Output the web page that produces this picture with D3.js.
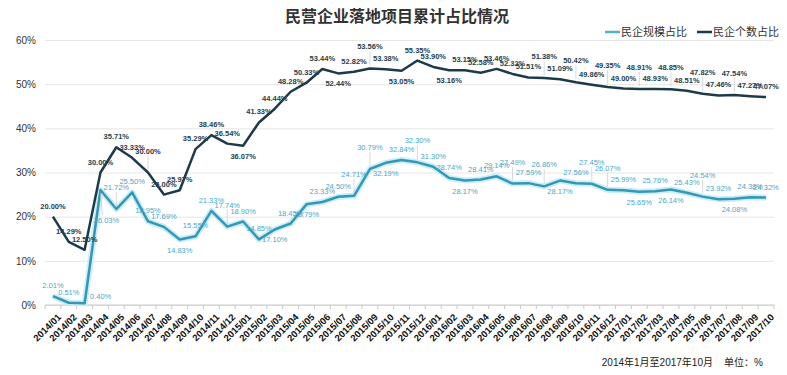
<!DOCTYPE html>
<html>
<head>
<meta charset="utf-8">
<script src="https://cdn.jsdelivr.net/npm/d3@7"></script>
<style>
  body { margin: 0; background: #fff; }
  text { font-family: Arial, "Liberation Sans", "Noto Sans CJK SC", sans-serif; }
</style>
</head>
<body>
<div id="myChart"></div>
<script>
// Chart size
const w = 787;
const h = 375;

// Data
const months = [
  "2014/01","2014/02","2014/03","2014/04","2014/05","2014/06","2014/07","2014/08","2014/09","2014/10","2014/11","2014/12",
  "2015/01","2015/02","2015/03","2015/04","2015/05","2015/06","2015/07","2015/08","2015/09","2015/10","2015/11","2015/12",
  "2016/01","2016/02","2016/03","2016/04","2016/05","2016/06","2016/07","2016/08","2016/09","2016/10","2016/11","2016/12",
  "2017/01","2017/02","2017/03","2017/04","2017/05","2017/06","2017/07","2017/08","2017/09","2017/10"
];
// 民企规模占比 (%)
const scaleShare = [
  2.01, 0.51, 0.40, 26.03, 21.72, 25.50, 18.95, 17.69, 14.83, 15.55, 21.33, 17.74,
  18.90, 14.85, 17.10, 18.45, 22.79, 23.33, 24.50, 24.71, 30.79, 32.19, 32.84, 32.30,
  31.30, 28.74, 28.17, 28.41, 29.14, 27.49, 27.59, 26.86, 28.17, 27.56, 27.45, 26.07,
  25.99, 25.65, 25.76, 26.14, 25.43, 24.54, 23.92, 24.08, 24.38, 24.32
];
// 民企个数占比 (%)
const countShare = [
  20.00, 14.29, 12.50, 30.00, 35.71, 33.33, 30.00, 25.00, 25.97, 35.29, 38.46, 36.54,
  36.07, 41.33, 44.44, 48.28, 50.33, 53.44, 52.44, 52.82, 53.56, 53.38, 53.05, 55.35,
  53.90, 53.16, 53.15, 52.58, 53.46, 52.32, 51.51, 51.38, 51.09, 50.42, 49.86, 49.35,
  49.00, 48.91, 48.93, 48.85, 48.51, 47.82, 47.46, 47.54, 47.27, 47.07
];
const yTicks = [0, 10, 20, 30, 40, 50, 60];
const seriesNames = ["民企规模占比", "民企个数占比"];

// label placement: a = above, b = below, d = far below, h = high with leader, r = right
const scaleLabelPos = "aardhaaabaah" + "aababaahhbah" + "aabaahahbahh" + "ababahabaa";
const countLabelPos = "aaaaaahaaaaa" + "baaaaabahaba" + "abaaaaahahah" + "ahahahahaa";

const colorLight = "#3597b6";
const colorDark = "#1d3a4b";

// margins
const margin = {top: 40, left: 45, bottom: 70, right: 13};
const innerWidth = w - margin.left - margin.right;
const innerHeight = h - margin.top - margin.bottom;

const svg = d3.select("#myChart")
  .append("svg")
    .attr("width", w)
    .attr("height", h);

// Title
svg.append("text")
  .attr("x", 397)
  .attr("y", 22)
  .attr("text-anchor", "middle")
  .style("font-size", "16px")
  .style("font-weight", "bold")
  .style("fill", "#333")
  .text("民营企业落地项目累计占比情况");

const mainG = svg.append("g")
  .attr("transform", `translate(${margin.left}, ${margin.top})`);

// scales
const xScale = d3.scaleBand()
  .domain(months)
  .range([0, innerWidth]);

const yScale = d3.scaleLinear()
  .domain([0, 60])
  .range([innerHeight, 0]);

const xc = d => xScale(d) + xScale.bandwidth() / 2;

// y grid + labels
const yAxis = d3.axisLeft(yScale)
  .tickValues(yTicks)
  .tickSize(-innerWidth)
  .tickFormat(d => d + "%");

mainG.append("g")
  .call(yAxis)
  .call(g => g.select(".domain").remove())
  .call(g => g.selectAll(".tick line").attr("stroke", "#e6e6e6"))
  .call(g => g.selectAll(".tick text")
    .attr("x", -9)
    .style("font-size", "10px")
    .style("fill", "#333"));

// x axis with ticks at band edges
const xAxisG = mainG.append("g")
  .attr("transform", `translate(0,${innerHeight})`);

xAxisG.append("line")
  .attr("x1", 0).attr("x2", innerWidth)
  .attr("stroke", "#c8c8c8");

xAxisG.selectAll("line.tk")
  .data(months.concat(["end"]))
  .enter()
  .append("line")
    .attr("class", "tk")
    .attr("x1", (d, i) => i * xScale.bandwidth())
    .attr("x2", (d, i) => i * xScale.bandwidth())
    .attr("y1", 0).attr("y2", 4)
    .attr("stroke", "#c8c8c8");

xAxisG.selectAll("text")
  .data(months)
  .enter()
  .append("text")
    .attr("transform", d => `translate(${xc(d) + 4},${8}) rotate(-45)`)
    .attr("text-anchor", "end")
    .attr("dy", "0.7em")
    .style("font-size", "9.5px")
    .style("font-weight", "bold")
    .style("fill", "#111")
    .text(d => d);

// line generator
const line = d3.line()
  .x((d, i) => xc(months[i]))
  .y(d => yScale(d));

// light series with halo
mainG.append("path")
  .attr("d", line(scaleShare))
  .attr("fill", "none")
  .attr("stroke", "#c9eef8")
  .attr("stroke-width", 6)
  .attr("stroke-linejoin", "round");

mainG.append("path")
  .attr("d", line(scaleShare))
  .attr("fill", "none")
  .attr("stroke", colorLight)
  .attr("stroke-width", 2.5)
  .attr("stroke-linejoin", "round");

mainG.append("path")
  .attr("d", line(countShare))
  .attr("fill", "none")
  .attr("stroke", colorDark)
  .attr("stroke-width", 2.5)
  .attr("stroke-linejoin", "round");

// data labels
function drawLabels(values, pos, color, weight) {
  const off = {a: [0, -8], b: [0, 13], d: [6, 33], h: [0, -19], r: [16, -4]};
  const g = mainG.append("g");
  values.forEach((v, i) => {
    const p = pos[i];
    const x = xc(months[i]) + off[p][0];
    const y = yScale(v) + off[p][1];
    if (p === "h") {
      g.append("line")
        .attr("x1", xc(months[i])).attr("x2", xc(months[i]))
        .attr("y1", y + 2).attr("y2", yScale(v) - 3)
        .attr("stroke", "#c8c8c8").attr("stroke-width", 0.7);
    }
    if (p === "d") {
      g.append("line")
        .attr("x1", xc(months[i])).attr("x2", x - 4)
        .attr("y1", yScale(v) + 3).attr("y2", y - 8)
        .attr("stroke", "#c8c8c8").attr("stroke-width", 0.7);
    }
    g.append("text")
      .attr("x", x)
      .attr("y", y)
      .attr("text-anchor", "middle")
      .style("font-size", "7.5px")
      .style("font-weight", weight)
      .style("fill", color)
      .text(v.toFixed(2) + "%");
  });
}

drawLabels(scaleShare, scaleLabelPos, "#4aa8c6", "normal");
drawLabels(countShare, countLabelPos, "#24414f", "bold");

// legend
const legend = svg.append("g");
const legendItems = [
  {name: seriesNames[0], color: "#4fb0cf", x: 605},
  {name: seriesNames[1], color: colorDark, x: 697}
];
legend.selectAll("line")
  .data(legendItems)
  .enter()
  .append("line")
    .attr("x1", d => d.x).attr("x2", d => d.x + 15)
    .attr("y1", 32).attr("y2", 32)
    .attr("stroke", d => d.color)
    .attr("stroke-width", 2.5);
legend.selectAll("text")
  .data(legendItems)
  .enter()
  .append("text")
    .attr("x", d => d.x + 16)
    .attr("y", 36)
    .style("font-size", "11px")
    .style("fill", "#333")
    .text(d => d.name);

// note bottom right
svg.append("text")
  .attr("x", 763)
  .attr("y", 366)
  .attr("text-anchor", "end")
  .style("font-size", "10px")
  .style("fill", "#222")
  .style("white-space", "pre")
  .text("2014年1月至2017年10月    单位：%");
</script>
</body>
</html>
